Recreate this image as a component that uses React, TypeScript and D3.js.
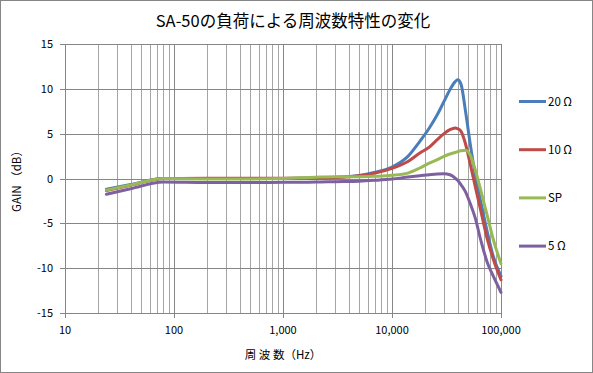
import React from "react";
import * as d3 from "d3";

const width = 593;
const height = 373;
const margin = { left: 65, right: 92, top: 44, bottom: 60 };
const font = "'Noto Sans CJK JP', 'Noto Sans', sans-serif";

// measured frequencies (Hz)
const freqs = [
  24, 40, 80, 200, 500, 1000, 2000, 3000, 5000, 7000, 10000, 14000, 18000,
  22000, 26000, 30000, 34000, 38000, 40000, 43000, 47000, 52000, 58000, 65000,
  75000, 85000, 100000,
];

// gain (dB) per load
const gain20 = [
  -1.2, -0.68, 0, 0, 0, 0, 0.05, 0.12, 0.35, 0.7, 1.28, 2.47, 4.14, 5.63, 7.1,
  8.6, 9.9, 10.8, 11.0, 10.5, 7.7, 4.0, 0.4, -2.5, -6.0, -8.7, -10.9,
];
const gain10 = [
  -1.35, -0.76, 0, 0.02, 0.03, 0.03, 0.05, 0.1, 0.3, 0.6, 1.13, 1.9, 2.84, 3.5,
  4.33, 5.0, 5.44, 5.63, 5.55, 5.26, 3.96, 1.7, -0.88, -3.5, -6.8, -9.0, -11.3,
];
const gainSP = [
  -1.3, -0.73, 0, -0.05, -0.05, 0, 0.15, 0.2, 0.2, 0.25, 0.35, 0.6, 1.17, 1.72,
  2.1, 2.47, 2.73, 2.9, 3.0, 3.1, 3.14, 2.65, 0.98, -1.25, -4.2, -6.8, -9.5,
];
const gain5 = [
  -1.75, -1.15, -0.4, -0.45, -0.45, -0.42, -0.4, -0.35, -0.3, -0.2, -0.06,
  0.16, 0.31, 0.42, 0.5, 0.53, 0.42, 0.05, -0.2, -0.7, -1.43, -2.74, -4.4, -6.8,
  -9.4, -10.9, -12.7,
];

const seriesNames = ["20 Ω", "10 Ω", "SP", "5 Ω"];
const seriesColors = ["#4a7ebb", "#be4b48", "#98b954", "#7d60a0"];
const seriesValues = [gain20, gain10, gainSP, gain5];

const yTicks = [-15, -10, -5, 0, 5, 10, 15];
const xTicks = [10, 100, 1000, 10000, 100000];

const x = d3
  .scaleLog()
  .domain([10, 100000])
  .range([margin.left, width - margin.right]);
const y = d3
  .scaleLinear()
  .domain([-15, 15])
  .range([height - margin.bottom, margin.top]);

const minorTicks: number[] = [];
for (let d = 10; d < 100000; d *= 10) {
  for (let k = 2; k < 10; k++) minorTicks.push(d * k);
}

const line = d3
  .line<[number, number]>()
  .x((d) => x(d[0]))
  .y((d) => y(d[1]))
  .curve(d3.curveMonotoneX);

const App = () => {
  const fmt = d3.format(",");
  const bottom = y(-15);
  const top = y(15);
  return (
    <div style={{ position: "absolute", left: 0, top: 0 }}>
      <svg width={width} height={height} style={{ display: "block" }}>
        <rect x={0} y={0} width={width} height={height} fill="#fff" />
        <rect
          x={0.5}
          y={0.5}
          width={width - 1}
          height={height - 1}
          fill="none"
          stroke="#868686"
        />
        <text
          x={293}
          y={27}
          textAnchor="middle"
          fontFamily={font}
          fontSize={16.5}
          fill="#000"
        >
          SA-50の負荷による周波数特性の変化
        </text>
        {/* minor grid */}
        {minorTicks.map((t) => (
          <line
            key={"m" + t}
            x1={Math.round(x(t)) + 0.5}
            x2={Math.round(x(t)) + 0.5}
            y1={top}
            y2={bottom}
            stroke="#a5a5a5"
          />
        ))}
        {xTicks.map((t) => (
          <line
            key={"M" + t}
            x1={Math.round(x(t)) + 0.5}
            x2={Math.round(x(t)) + 0.5}
            y1={top}
            y2={bottom + 5}
            stroke="#868686"
          />
        ))}
        {yTicks.map((t) => (
          <line
            key={"h" + t}
            x1={x(10) - 5}
            x2={x(100000)}
            y1={Math.round(y(t)) + 0.5}
            y2={Math.round(y(t)) + 0.5}
            stroke="#868686"
          />
        ))}
        {yTicks.map((t) => (
          <text
            key={"yl" + t}
            x={53}
            y={y(t) + 4}
            textAnchor="end"
            fontFamily={font}
            fontSize={11}
            fill="#000"
          >
            {t}
          </text>
        ))}
        {xTicks.map((t) => (
          <text
            key={"xl" + t}
            x={x(t)}
            y={334}
            textAnchor="middle"
            fontFamily={font}
            fontSize={11}
            fill="#000"
          >
            {fmt(t)}
          </text>
        ))}
        <text
          x={283}
          y={359}
          textAnchor="middle"
          fontFamily={font}
          fontSize={11.5}
          fill="#000"
        >
          周 波 数（Hz）
        </text>
        <text
          transform={`translate(21, ${(top + bottom) / 2}) rotate(-90)`}
          textAnchor="middle"
          fontFamily={font}
          fontSize={11.5}
          fill="#000"
        >
          GAIN （dB）
        </text>
        {seriesValues.map((vals, i) => (
          <path
            key={"s" + i}
            d={line(freqs.map((f, j) => [f, vals[j]] as [number, number])) || ""}
            fill="none"
            stroke={seriesColors[i]}
            strokeWidth={3}
            strokeLinejoin="round"
            strokeLinecap="round"
          />
        ))}
        {seriesNames.map((n, i) => {
          const ly = 101.5 + i * 48.2;
          return (
            <g key={"lg" + i}>
              <line
                x1={519}
                x2={546}
                y1={ly}
                y2={ly}
                stroke={seriesColors[i]}
                strokeWidth={3}
              />
              <text
                x={548}
                y={ly + 4}
                fontFamily={font}
                fontSize={11.5}
                fill="#000"
              >
                {n}
              </text>
            </g>
          );
        })}
      </svg>
    </div>
  );
};

export default App;
